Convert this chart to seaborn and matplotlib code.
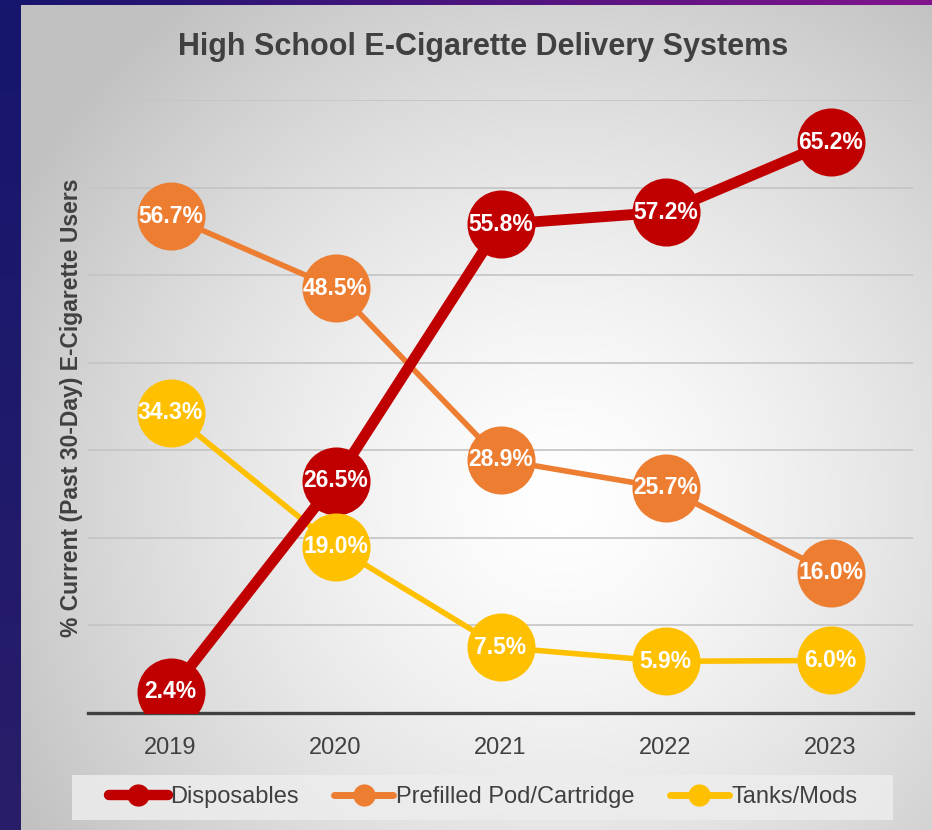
import numpy as np
import pandas as pd
import matplotlib
matplotlib.use('Agg')
import matplotlib.pyplot as plt
import seaborn as sns
from matplotlib.lines import Line2D
from matplotlib.patches import Rectangle

years = ['2019', '2020', '2021', '2022', '2023']
disposables = [2.4, 26.5, 55.8, 57.2, 65.2]
prefilled = [56.7, 48.5, 28.9, 25.7, 16.0]
tanks = [34.3, 19.0, 7.5, 5.9, 6.0]
series_names = ['Disposables', 'Prefilled Pod/Cartridge', 'Tanks/Mods']
series_vals = [disposables, prefilled, tanks]
colors = ['#C00000', '#ED7D31', '#FFC000']
line_widths = [7.8, 4.0, 4.0]

sns.set_theme(style='white')
plt.rcParams['font.family'] = ['Liberation Sans', 'DejaVu Sans']

W, H = 932, 830
fig = plt.figure(figsize=(W / 100, H / 100), dpi=100)

# background
bg = fig.add_axes([0, 0, 1, 1])
bg.axis('off')
yy, xx = np.mgrid[0:H, 0:W]
d = np.hypot(xx - 560, yy - 500)
v = 1 - 0.24 * np.clip(d / 620, 0, 1) ** 1.4
img = np.dstack([v, v, v])
navy_top = np.array([22, 22, 110]) / 255
navy_bot = np.array([40, 30, 105]) / 255
t = (yy / H)[..., None]
left_col = navy_top * (1 - t) + navy_bot * t
mask_left = xx < 21
img[mask_left] = left_col[mask_left]
tx = (xx / W)[..., None]
purple = np.array([130, 20, 140]) / 255
top_col = navy_top * (1 - tx) + purple * tx
mask_top = yy < 6
img[mask_top] = top_col[mask_top]
bg.imshow(img, extent=[0, W, H, 0], aspect='auto')
bg.set_xlim(0, W)
bg.set_ylim(H, 0)
# legend box
bg.add_patch(Rectangle((72, 775), 821, 45, facecolor='#EDEDED', edgecolor='none', alpha=0.85))

ax = fig.add_axes([88 / W, 1 - 713 / H, (913 - 88) / W, (713 - 100) / H])
ax.patch.set_alpha(0)

xpos = np.arange(len(years))
df = pd.DataFrame({
    'x': np.tile(xpos, 3),
    'value': disposables + prefilled + tanks,
    'series': np.repeat(series_names, len(years)),
})

# lines: tanks bottom, disposables top
for i in [2, 1, 0]:
    sub = df[df['series'] == series_names[i]]
    sns.lineplot(data=sub, x='x', y='value', color=colors[i], linewidth=line_widths[i],
                 ax=ax, zorder=2 + (2 - i), solid_capstyle='butt')
# markers above all lines
for i in [0, 1, 2]:
    sub = df[df['series'] == series_names[i]]
    sns.scatterplot(data=sub, x='x', y='value', color=colors[i], s=49 ** 2,
                    linewidth=0, ax=ax, zorder=6, legend=False)
    for xv, yv in zip(sub['x'], sub['value']):
        ax.text(xv, yv, f'{yv:.1f}%', ha='center', va='center', color='white',
                fontsize=16.5, fontweight='bold', zorder=7)

ax.set_xlim(-0.5, 4.5)
ax.set_ylim(0, 70)
ax.set_yticks(range(0, 71, 10))
ax.yaxis.grid(True, color='#C4C4C4', linewidth=1.2)
ax.xaxis.grid(False)
ax.set_axisbelow(True)
ax.tick_params(left=False, labelleft=False, bottom=False, pad=11)
ax.set_xticks(xpos)
ax.set_xticklabels(years, fontsize=17, color='#404040')
ax.set_xlabel('')
ax.set_ylabel('')
for s in ['top', 'right', 'left']:
    ax.spines[s].set_visible(False)
ax.spines['bottom'].set_color('#404040')
ax.spines['bottom'].set_linewidth(2.4)
ax.spines['bottom'].set_zorder(1)

fig.text(483 / W, 1 - 47 / H, 'High School E-Cigarette Delivery Systems',
         ha='center', va='center', fontsize=22, fontweight='bold', color='#404040')
fig.text(72 / W, 1 - 408 / H, '% Current (Past 30-Day) E-Cigarette Users',
         ha='center', va='center', rotation=90, fontsize=16.5, fontweight='bold',
         color='#404040')

handles = [Line2D([], [], color=c, lw=lw, marker='o', markersize=16,
                  markeredgewidth=0, solid_capstyle='round')
           for c, lw in zip(colors, [7.5, 5, 5])]
leg = fig.legend(handles, series_names, loc='center', ncol=3,
                 bbox_to_anchor=(483 / W, 1 - 797 / H), fontsize=17,
                 frameon=False, handlelength=2.5, handletextpad=0.1,
                 columnspacing=1.5, borderpad=0.3)
for txt in leg.get_texts():
    txt.set_color('#404040')

fig.savefig('out.png', dpi=100)
